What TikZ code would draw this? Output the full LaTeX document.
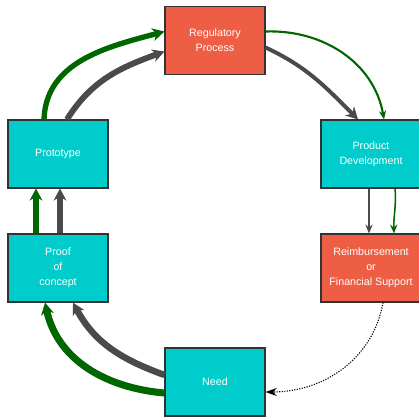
\documentclass[tikz,border=0pt]{standalone}
\usepackage{fontspec}
\setmainfont{Liberation Sans}
\usetikzlibrary{arrows.meta,calc}
\definecolor{regred}{HTML}{EE5E45}
\definecolor{stageteal}{HTML}{00CCCC}
\definecolor{flowgreen}{HTML}{006600}
\definecolor{flowgrey}{HTML}{4A4A4A}
\definecolor{edgegrey}{HTML}{333333}

\begin{document}
\begin{tikzpicture}[
  x=0.025cm, y=0.025cm,
  stage/.style={draw=edgegrey, line width=0.8pt, fill=stageteal, text=white,
    minimum width=2.5cm, minimum height=1.7cm, inner sep=0pt, align=center,
    font=\fontsize{7.6}{10.7}\selectfont},
  gate/.style={stage, fill=regred},
  garr/.style={-{Stealth[length=3mm, width=3.2mm]}, flowgreen, line width=4pt},
  karr/.style={-{Stealth[length=3mm, width=3.2mm]}, flowgrey, line width=4pt},
  tarr/.style={-{Stealth[length=2.2mm, width=1.8mm]}, line width=1.3pt},
  darr/.style={-{Stealth[length=2.8mm, width=2mm]}, densely dotted, line width=0.8pt},
]
\useasboundingbox (0,0) rectangle (419,416);

% ---- the six stages round the circle ----
\node[gate]  (reg)    at (215,375.5) {Regulatory\\Process};
\node[stage] (proto)  at (58,262)    {Prototype};
\node[stage] (prod)   at (371,262)   {Product\\Development};
\node[stage] (proof)  at (58,148)    {Proof\\of\\concept};
\node[gate]  (reimb)  at (371,148)   {Reimbursement\\or\\Financial Support};
\node[stage] (need)   at (215,34)    {Need};

% ---- left half: need -> proof -> prototype -> regulatory ----
\draw[garr, line width=5pt] ($(need.west)+(0,-11)$) to[out=175, in=-78]
  ($(proof.south)+(-13,0)$);
\draw[karr, line width=4.6pt] ($(need.west)+(0,7)$) to[out=160, in=-62]
  ($(proof.south)+(15,0)$);
\draw[garr, line width=4.6pt] ($(proof.north)+(-22,0)$) -- ($(proto.south)+(-22,0)$);
\draw[karr, line width=4.3pt] ($(proof.north)+(2,0)$) -- ($(proto.south)+(2,0)$);
\draw[garr, line width=3.8pt] ($(proto.north)+(-14,0)$) to[out=88, in=195]
  ($(reg.west)+(0,9)$);
\draw[karr, line width=4.2pt] ($(proto.north)+(9,0)$) to[out=58, in=200]
  ($(reg.west)+(0,-11)$);

% ---- right half: regulatory -> product -> reimbursement -> need ----
\draw[tarr, flowgreen, line width=1.5pt] ($(reg.east)+(0,9)$) to[out=2, in=100]
  ($(prod.north)+(13,0)$);
\draw[karr, line width=2.8pt] ($(reg.east)+(0,-7)$) to[out=-25, in=135]
  ($(prod.north)+(-13,0)$);
\draw[tarr, flowgrey, line width=1.8pt] ($(prod.south)+(-2,0)$) -- ($(reimb.north)+(-2,0)$);
\draw[tarr, flowgreen, line width=1.1pt] ($(prod.south)+(24,0)$) to[out=-85, in=92]
  ($(reimb.north)+(23,0)$);
\draw[darr] ($(reimb.south)+(12,0)$) to[out=-100, in=0] ($(need.east)+(0,-10)$);

\end{tikzpicture}
\end{document}
